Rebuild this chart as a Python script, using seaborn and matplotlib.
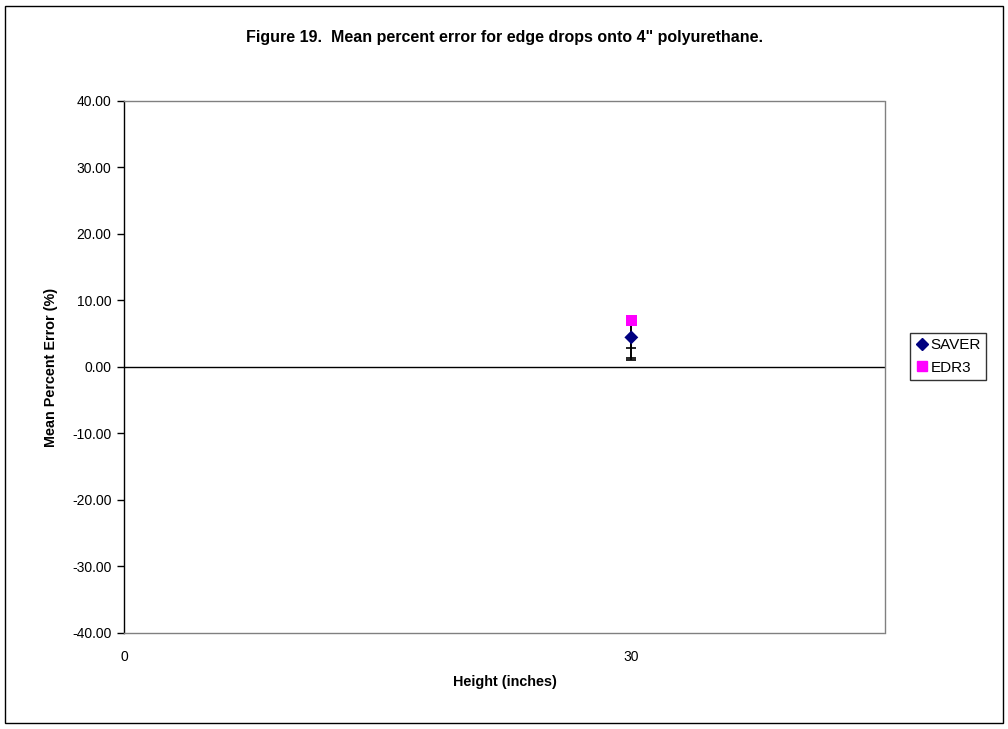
import matplotlib
matplotlib.use("Agg")
import matplotlib.pyplot as plt
import seaborn as sns
import pandas as pd
from matplotlib.patches import Rectangle
from matplotlib.lines import Line2D

sns.set_theme(style="white")
plt.rcParams['font.family'] = ['Liberation Sans', 'DejaVu Sans']
plt.rcParams['text.color'] = 'black'
plt.rcParams['axes.labelcolor'] = 'black'
plt.rcParams['xtick.color'] = 'black'
plt.rcParams['ytick.color'] = 'black'

# data
heights = [30]
saver_mean = [4.45]
saver_err_low = [1.55]
edr3_mean = [7.0]
edr3_err_low_a = [5.6]
edr3_err_low_b = [5.9]
series_names = ["SAVER", "EDR3"]
yticks = [-40, -30, -20, -10, 0, 10, 20, 30, 40]
xticks = [0, 30]

df = pd.DataFrame({
    "Height": heights * 2,
    "Error": saver_mean + edr3_mean,
    "Series": [series_names[0]] * len(heights) + [series_names[1]] * len(heights),
})

fig = plt.figure(figsize=(10.08, 7.29), dpi=100)
ax = fig.add_axes([0.123, 0.1317, 0.755, 0.7298])

fig.patches.append(Rectangle((0.005, 0.008), 0.99, 0.984, transform=fig.transFigure,
                             fill=False, edgecolor='black', linewidth=1.0))

# error bars (minus direction)
for mean, low in [(saver_mean, saver_err_low), (edr3_mean, edr3_err_low_a), (edr3_mean, edr3_err_low_b)]:
    ax.errorbar(heights, mean, yerr=[low, [0] * len(low)], fmt='none',
                ecolor='black', elinewidth=1.2, capsize=3.3, capthick=1.2, zorder=2)

sns.scatterplot(data=df, x="Height", y="Error", hue="Series", style="Series",
                markers={"SAVER": "D", "EDR3": "s"},
                palette={"SAVER": "#000080", "EDR3": "#FF00FF"},
                size="Series", sizes={"SAVER": 50, "EDR3": 65},
                edgecolor=None, linewidth=0, ax=ax, zorder=3, legend=False)

ax.axhline(0, color='black', linewidth=1.0, zorder=1)

ax.set_xlim(0, 45)
ax.set_ylim(-40, 40)
ax.set_yticks(yticks)
ax.set_yticklabels([f"{v:.2f}" for v in yticks], fontsize=10)
ax.set_xticks(xticks)
ax.set_xticklabels([str(v) for v in xticks], fontsize=10)
ax.tick_params(axis='y', which='both', left=True, length=5, width=1, color='black', pad=4)
ax.tick_params(axis='x', which='both', bottom=False, length=0, pad=12)

for s in ['top', 'right', 'bottom']:
    ax.spines[s].set_linestyle((0, (1, 1)))
    ax.spines[s].set_color('#808080')
    ax.spines[s].set_linewidth(1.0)
ax.spines['left'].set_color('black')
ax.spines['left'].set_linewidth(1.0)

ax.set_xlabel("Height (inches)", fontsize=10.4, fontweight='bold', labelpad=8)
ax.set_ylabel("Mean Percent Error (%)", fontsize=10.4, fontweight='bold', labelpad=10)

fig.text(0.5, 0.949, 'Figure 19.  Mean percent error for edge drops onto 4" polyurethane.',
         ha='center', va='center', fontsize=11.5, fontweight='bold')

handles = [Line2D([], [], marker='D', color='#000080', linestyle='none', markersize=6),
           Line2D([], [], marker='s', color='#FF00FF', linestyle='none', markersize=7)]
leg = ax.legend(handles, series_names, loc='upper left', bbox_to_anchor=(1.033, 0.564),
                frameon=True, fontsize=11, handletextpad=0.2, borderpad=0.35,
                labelspacing=0.55, fancybox=False, borderaxespad=0, handlelength=0.8)
leg.get_frame().set_edgecolor('black')
leg.get_frame().set_linewidth(1.0)

fig.savefig("out.png", dpi=100)
